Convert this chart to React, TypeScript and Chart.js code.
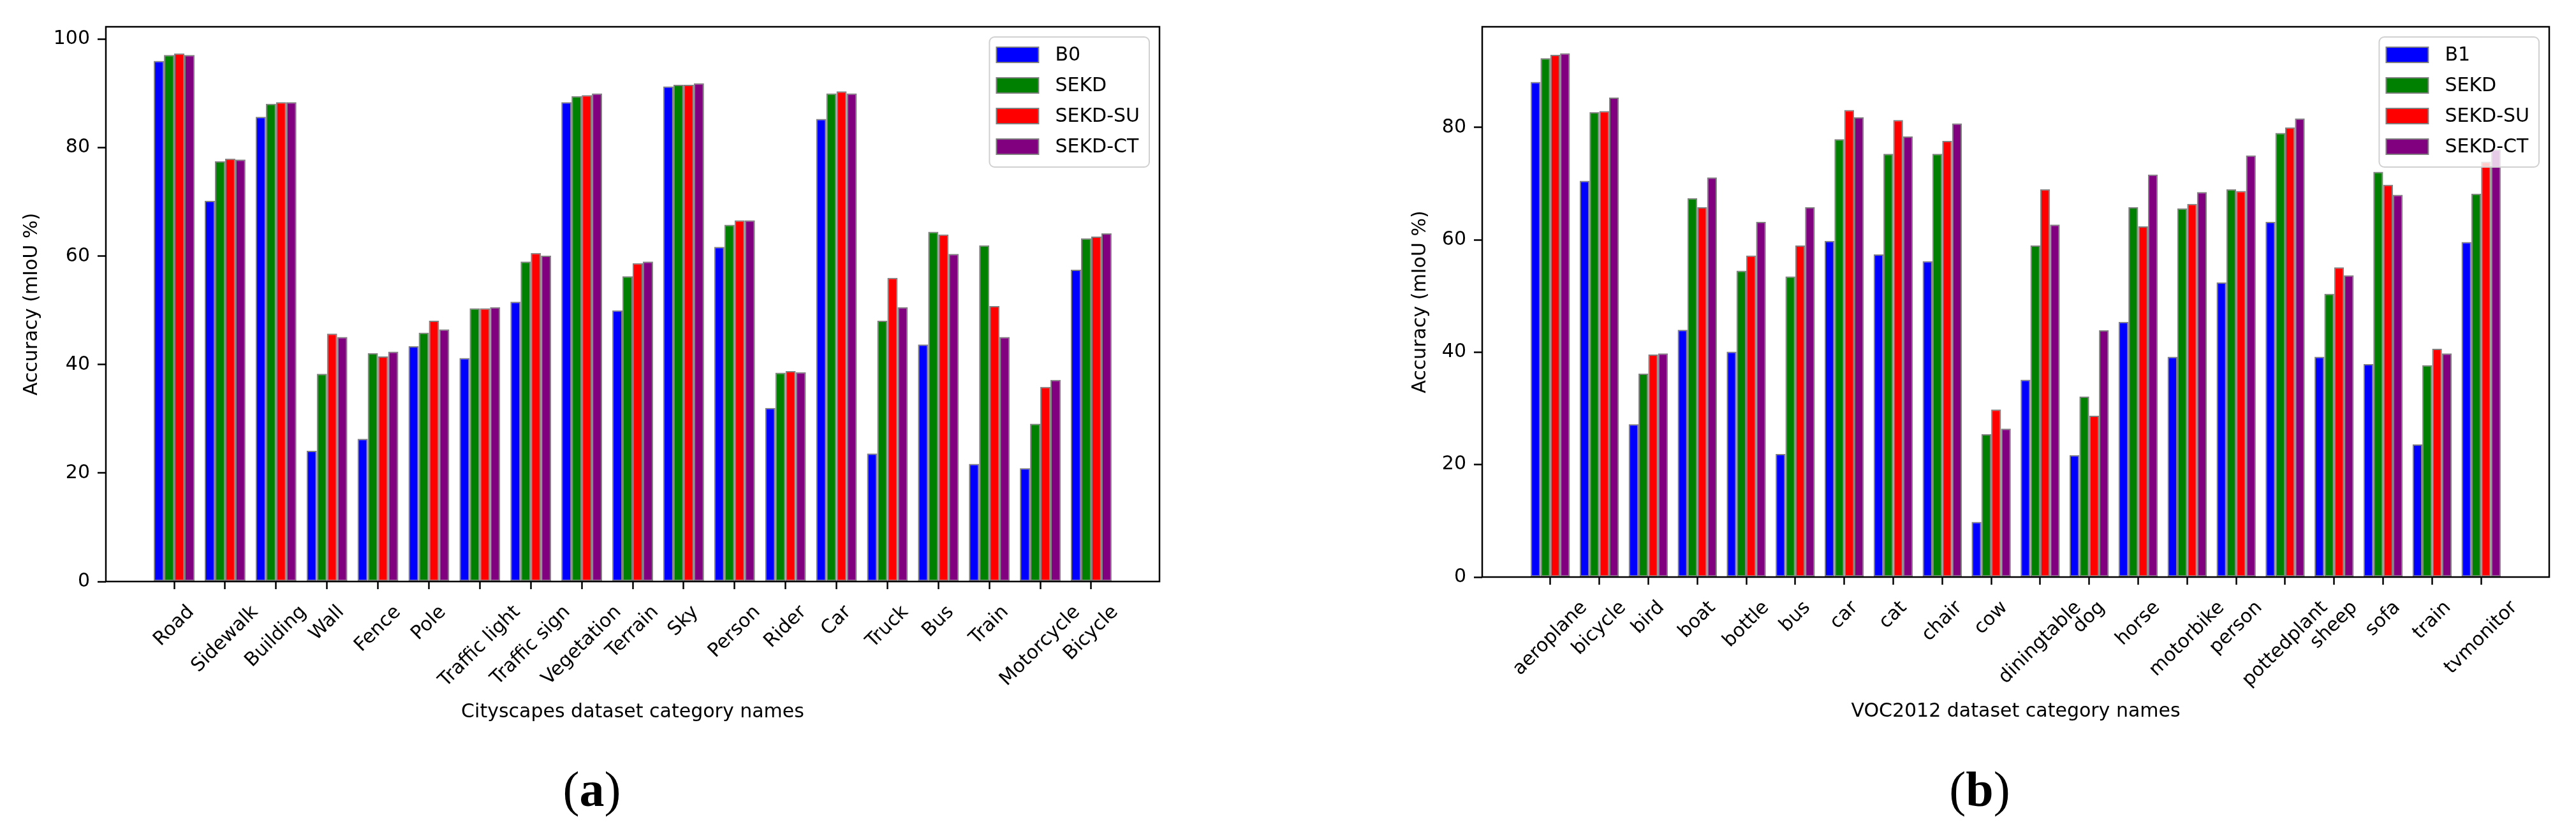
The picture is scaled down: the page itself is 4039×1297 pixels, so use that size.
import React, { useEffect, useRef } from "react";
import { Chart, registerables } from "chart.js";

Chart.register(...registerables);

// ---------- Data: (a) Cityscapes ----------
const cityCategories = [
  "Road", "Sidewalk", "Building", "Wall", "Fence", "Pole", "Traffic light", "Traffic sign",
  "Vegetation", "Terrain", "Sky", "Person", "Rider", "Car", "Truck", "Bus", "Train",
  "Motorcycle", "Bicycle",
];
const cityB0 = [96.0, 70.2, 85.7, 24.1, 26.3, 43.4, 41.2, 51.6, 88.4, 50.0, 91.3, 61.7, 32.0, 85.3, 23.6, 43.7, 21.7, 20.9, 57.5];
const citySEKD = [97.1, 77.5, 88.1, 38.3, 42.1, 45.9, 50.4, 59.0, 89.5, 56.3, 91.6, 65.8, 38.5, 90.0, 48.1, 64.5, 62.0, 29.1, 63.3];
const citySEKDSU = [97.4, 78.0, 88.4, 45.7, 41.5, 48.1, 50.4, 60.6, 89.7, 58.7, 91.6, 66.6, 38.8, 90.4, 56.0, 64.0, 50.8, 35.9, 63.6];
const citySEKDCT = [97.1, 77.8, 88.4, 45.1, 42.4, 46.5, 50.6, 60.1, 90.0, 59.0, 91.9, 66.6, 38.6, 90.0, 50.6, 60.4, 45.1, 37.2, 64.2];
const citySeriesNames = ["B0", "SEKD", "SEKD-SU", "SEKD-CT"];

// ---------- Data: (b) VOC2012 ----------
const vocCategories = [
  "aeroplane", "bicycle", "bird", "boat", "bottle", "bus", "car", "cat", "chair", "cow",
  "diningtable", "dog", "horse", "motorbike", "person", "pottedplant", "sheep", "sofa", "train", "tvmonitor",
];
const vocB1 = [88.1, 70.5, 27.2, 44.0, 40.1, 21.9, 59.8, 57.4, 56.2, 9.8, 35.1, 21.7, 45.4, 39.2, 52.4, 63.2, 39.2, 37.9, 23.6, 59.6];
const vocSEKD = [92.3, 82.7, 36.2, 67.4, 54.5, 53.5, 77.9, 75.3, 75.3, 25.4, 59.0, 32.1, 65.8, 65.6, 69.0, 79.0, 50.4, 72.1, 37.7, 68.2];
const vocSEKDSU = [92.9, 82.9, 39.6, 65.8, 57.2, 59.0, 83.1, 81.3, 77.6, 29.8, 69.0, 28.7, 62.4, 66.4, 68.7, 80.0, 55.1, 69.8, 40.6, 73.9];
const vocSEKDCT = [93.2, 85.3, 39.8, 71.1, 63.2, 65.8, 81.8, 78.4, 80.7, 26.4, 62.7, 43.9, 71.6, 68.5, 75.0, 81.6, 53.7, 68.0, 39.8, 76.1];
const vocSeriesNames = ["B1", "SEKD", "SEKD-SU", "SEKD-CT"];

const yTickValues = [0, 20, 40, 60, 80, 100];
const seriesColors = ["#0000ff", "#008000", "#ff0000", "#800080"];

const FONT = "'DejaVu Sans', sans-serif";
const FS = 30;

type Area = { left: number; top: number; right: number; bottom: number };

type PanelProps = {
  width: number;
  height: number;
  categories: string[];
  series: number[][];
  names: string[];
  yMax: number;
  xTitle: string;
  yTitle: string;
  area: Area;
};

function roundRectPath(ctx: CanvasRenderingContext2D, x: number, y: number, w: number, h: number, r: number) {
  ctx.beginPath();
  ctx.moveTo(x + r, y);
  ctx.lineTo(x + w - r, y);
  ctx.arcTo(x + w, y, x + w, y + r, r);
  ctx.lineTo(x + w, y + h - r);
  ctx.arcTo(x + w, y + h, x + w - r, y + h, r);
  ctx.lineTo(x + r, y + h);
  ctx.arcTo(x, y + h, x, y + h - r, r);
  ctx.lineTo(x, y + r);
  ctx.arcTo(x, y, x + r, y, r);
  ctx.closePath();
}

function Panel(props: PanelProps) {
  const ref = useRef<HTMLCanvasElement | null>(null);

  useEffect(() => {
    const canvas = ref.current;
    if (!canvas) return;
    const { width, height, categories, series, names, yMax, xTitle, yTitle, area } = props;
    const n = categories.length;
    const span = n - 1 + 0.8;
    const xMin = -0.4 - 0.05 * span;
    const xMax = n - 1 + 0.4 + 0.05 * span;

    const overlay = {
      id: "overlay",
      afterDatasetsDraw(chart: any) {
        const ctx: CanvasRenderingContext2D = chart.ctx;
        const a = chart.chartArea;
        // frame
        ctx.save();
        ctx.strokeStyle = "#000";
        ctx.lineWidth = 2.5;
        ctx.strokeRect(a.left, a.top, a.right - a.left, a.bottom - a.top);
        ctx.restore();

        // legend
        ctx.save();
        ctx.font = `${FS}px ${FONT}`;
        let tw = 0;
        names.forEach((nm) => (tw = Math.max(tw, ctx.measureText(nm).width)));
        const textOff = 103;
        const boxW = textOff + tw + 15;
        const boxH = 204;
        const boxX = a.right - 16 - boxW;
        const boxY = a.top + 16;
        roundRectPath(ctx, boxX, boxY, boxW, boxH, 8);
        ctx.fillStyle = "rgba(255,255,255,0.8)";
        ctx.fill();
        ctx.strokeStyle = "#d0d0d0";
        ctx.lineWidth = 2;
        ctx.stroke();
        names.forEach((nm, k) => {
          const cy = boxY + 28 + k * 48;
          ctx.fillStyle = seriesColors[k];
          ctx.fillRect(boxX + 11, cy - 12, 66, 24);
          ctx.strokeStyle = "#808080";
          ctx.lineWidth = 2;
          ctx.strokeRect(boxX + 11, cy - 12, 66, 24);
          ctx.fillStyle = "#000";
          ctx.textAlign = "left";
          ctx.textBaseline = "middle";
          ctx.fillText(nm, boxX + textOff, cy + 1);
        });
        ctx.restore();
      },
      afterDraw(chart: any) {
        const ctx: CanvasRenderingContext2D = chart.ctx;
        const a = chart.chartArea;
        const xs = chart.scales.x;
        ctx.save();
        ctx.font = `${FS}px ${FONT}`;
        ctx.fillStyle = "#000";
        // x tick labels, rotated 45deg, bbox centred on tick (matplotlib style)
        const h = FS * 1.164;
        let maxBottom = a.bottom;
        categories.forEach((c, i) => {
          const px = xs.getPixelForValue(i);
          const w = ctx.measureText(c).width;
          const d = (w + h) / Math.SQRT2;
          const cy = a.bottom + 31 + d / 2;
          maxBottom = Math.max(maxBottom, cy + d / 2);
          ctx.save();
          ctx.translate(px, cy);
          ctx.rotate(-Math.PI / 4);
          ctx.textAlign = "center";
          ctx.textBaseline = "middle";
          ctx.fillText(c, 0, 0);
          ctx.restore();
        });
        // x title
        ctx.textAlign = "center";
        ctx.textBaseline = "middle";
        ctx.fillText(xTitle, (a.left + a.right) / 2, maxBottom + 32);
        // y title
        let mw = 0;
        chart.scales.y.ticks.forEach((t: any) => {
          mw = Math.max(mw, ctx.measureText(String(t.value)).width);
        });
        const yx = a.left - 25 - mw - 34;
        ctx.save();
        ctx.translate(yx, (a.top + a.bottom) / 2);
        ctx.rotate(-Math.PI / 2);
        ctx.fillText(yTitle, 0, 0);
        ctx.restore();
        ctx.restore();
      },
    };

    const chart = new Chart(canvas, {
      type: "bar",
      data: {
        datasets: series.map((vals, k) => ({
          label: names[k],
          data: vals.map((v, i) => ({ x: i, y: v })),
          backgroundColor: seriesColors[k],
          borderColor: "#808080",
          borderWidth: 2,
          borderSkipped: false,
          barPercentage: 1.0,
          categoryPercentage: 0.8,
        })),
      },
      options: {
        animation: false,
        responsive: false,
        devicePixelRatio: 1,
        layout: {
          padding: { left: 0, top: area.top, right: width - area.right, bottom: 0 },
        },
        plugins: {
          legend: { display: false },
          tooltip: { enabled: false },
          title: { display: false },
        },
        scales: {
          x: {
            type: "linear",
            min: xMin,
            max: xMax,
            offset: false,
            border: { display: false },
            grid: {
              display: true,
              offset: false,
              drawOnChartArea: false,
              drawTicks: true,
              tickLength: 12,
              tickWidth: 2.5,
              tickColor: "#000",
            },
            ticks: { display: false, stepSize: 1, includeBounds: false },
            afterBuildTicks: (scale: any) => {
              scale.ticks = categories.map((_, i) => ({ value: i }));
            },
            afterFit: (scale: any) => {
              scale.height = height - area.bottom;
            },
          },
          y: {
            type: "linear",
            min: 0,
            max: yMax,
            border: { display: false },
            grid: {
              display: true,
              offset: false,
              drawOnChartArea: false,
              drawTicks: true,
              tickLength: 13,
              tickWidth: 2.5,
              tickColor: "#000",
            },
            ticks: {
              stepSize: 20,
              includeBounds: false,
              padding: 12,
              color: "#000",
              font: { family: FONT, size: FS },
            },
            afterBuildTicks: (scale: any) => {
              scale.ticks = yTickValues.filter((v) => v <= yMax).map((v) => ({ value: v }));
            },
            afterFit: (scale: any) => {
              scale.width = area.left;
            },
          },
        },
      },
      plugins: [overlay],
    } as any);

    return () => chart.destroy();
  }, []);

  return <canvas ref={ref} width={props.width} height={props.height} style={{ display: "block", width: props.width, height: props.height }} />;
}

const captionStyle: React.CSSProperties = {
  position: "absolute",
  width: 300,
  top: 1199,
  fontFamily: "'Liberation Serif', 'DejaVu Serif', serif",
  fontSize: 78,
  lineHeight: "78px",
  textAlign: "center",
  color: "#000",
};

export default function App() {
  return (
    <div style={{ position: "absolute", left: 0, top: 0, width: 4039, height: 1297, background: "#fff", overflow: "hidden" }}>
      <div style={{ position: "absolute", left: 0, top: 0 }}>
        <Panel
          width={1950}
          height={1180}
          categories={cityCategories}
          series={[cityB0, citySEKD, citySEKDSU, citySEKDCT]}
          names={citySeriesNames}
          yMax={102.3}
          xTitle="Cityscapes dataset category names"
          yTitle="Accuracy (mIoU %)"
          area={{ left: 166, top: 42, right: 1818, bottom: 912 }}
        />
      </div>
      <div style={{ position: "absolute", left: 1950, top: 0 }}>
        <Panel
          width={2089}
          height={1180}
          categories={vocCategories}
          series={[vocB1, vocSEKD, vocSEKDSU, vocSEKDCT]}
          names={vocSeriesNames}
          yMax={97.9}
          xTitle="VOC2012 dataset category names"
          yTitle="Accuracy (mIoU %)"
          area={{ left: 374, top: 42, right: 2047, bottom: 905 }}
        />
      </div>
      <div style={{ ...captionStyle, left: 928 - 150 }}>
        (<b>a</b>)
      </div>
      <div style={{ ...captionStyle, left: 3104 - 150 }}>
        (<b>b</b>)
      </div>
    </div>
  );
}
